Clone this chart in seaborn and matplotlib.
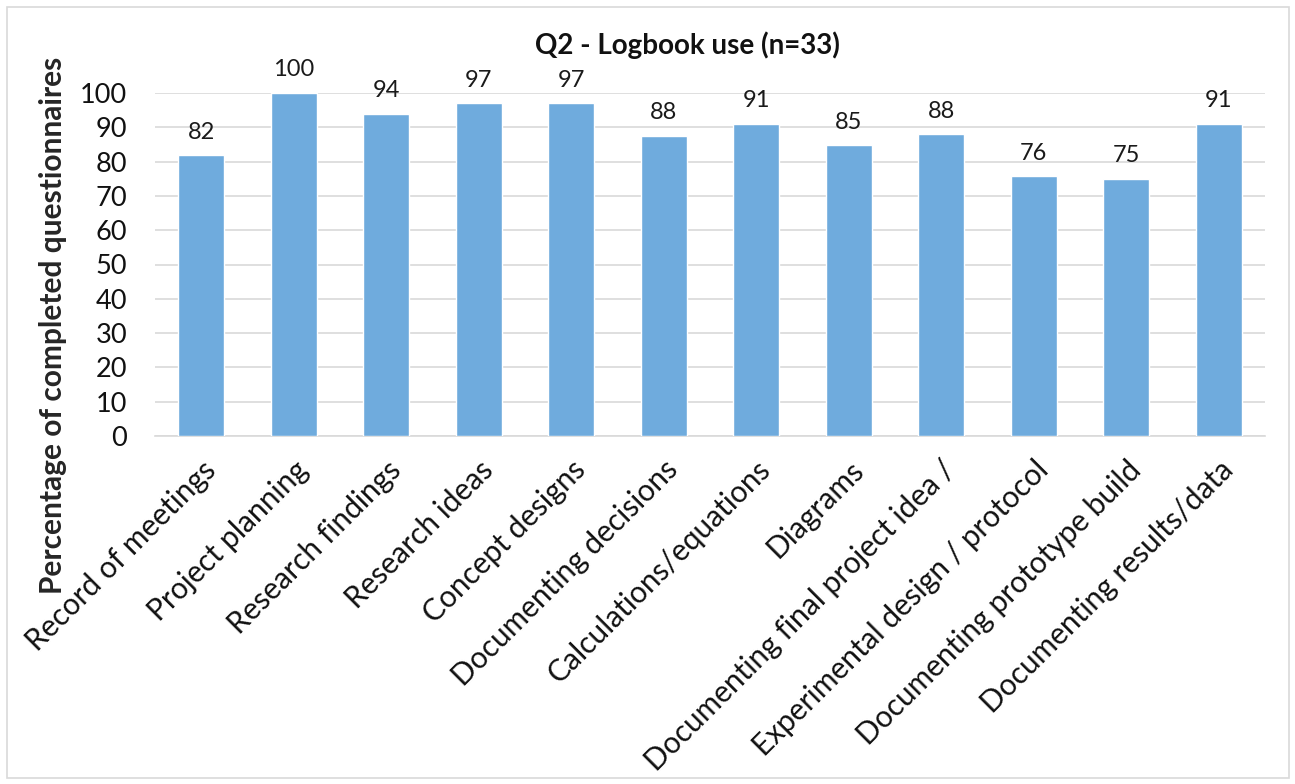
import matplotlib
matplotlib.use("Agg")
import matplotlib.pyplot as plt
import seaborn as sns
import pandas as pd
from matplotlib.patches import Rectangle

categories = ["Record of meetings", "Project planning", "Research findings", "Research ideas",
              "Concept designs", "Documenting decisions", "Calculations/equations", "Diagrams",
              "Documenting final project idea /", "Experimental design / protocol",
              "Documenting prototype build", "Documenting results/data"]
values = [81.8, 100, 94, 97, 97, 87.5, 91, 84.8, 88, 75.8, 75, 91]
value_labels = ["82", "100", "94", "97", "97", "88", "91", "85", "88", "76", "75", "91"]

df = pd.DataFrame({"use": categories, "pct": values})

sns.set_theme(style="white")
plt.rcParams['font.family'] = ['Lato', 'DejaVu Sans']

fig = plt.figure(figsize=(12.95, 7.84), dpi=100)
ax = fig.add_axes([155/1295, 1 - 436/784, 1110/1295, 343/784])

sns.barplot(data=df, x="use", y="pct", color="#6FABDD", width=0.5, saturation=1, ax=ax, zorder=3)
ax.bar_label(ax.containers[0], labels=value_labels, padding=9, fontsize=17, color="#1a1a1a")

ax.set_ylim(0, 100)
ax.set_xlim(-0.5, len(categories) - 0.5)
ax.set_yticks(range(0, 101, 10))
ax.yaxis.grid(True, color="#D9D9D9", linewidth=1.2, zorder=0)
ax.set_axisbelow(True)
for s in ["top", "right", "left"]:
    ax.spines[s].set_visible(False)
ax.spines["bottom"].set_color("#D9D9D9")
ax.spines["bottom"].set_linewidth(1.2)
ax.tick_params(axis="y", labelsize=19.5, length=0, pad=20, labelcolor="#111111")
ax.tick_params(axis="x", labelsize=21.5, length=0, pad=14, labelcolor="#111111")
plt.setp(ax.get_xticklabels(), rotation=45, ha="right", rotation_mode="anchor")
ax.set_xlabel("")
ax.set_ylabel("Percentage of completed questionnaires", fontsize=21.5, fontweight="bold")
ax.yaxis.set_label_coords(-(155 - 53) / 1110, (436 - 325) / 343)
ax.yaxis.label.set_va("center")

fig.text(687/1295, 1 - 45/784, "Q2 - Logbook use (n=33)", ha="center", va="center",
         fontsize=20, fontweight="bold", color="#111111")

fig.patches.append(Rectangle((7/1295, 6/784), 1282/1295, 771/784, transform=fig.transFigure,
                             fill=False, edgecolor="#D9D9D9", linewidth=1.2))

fig.savefig("out.png", dpi=100)
